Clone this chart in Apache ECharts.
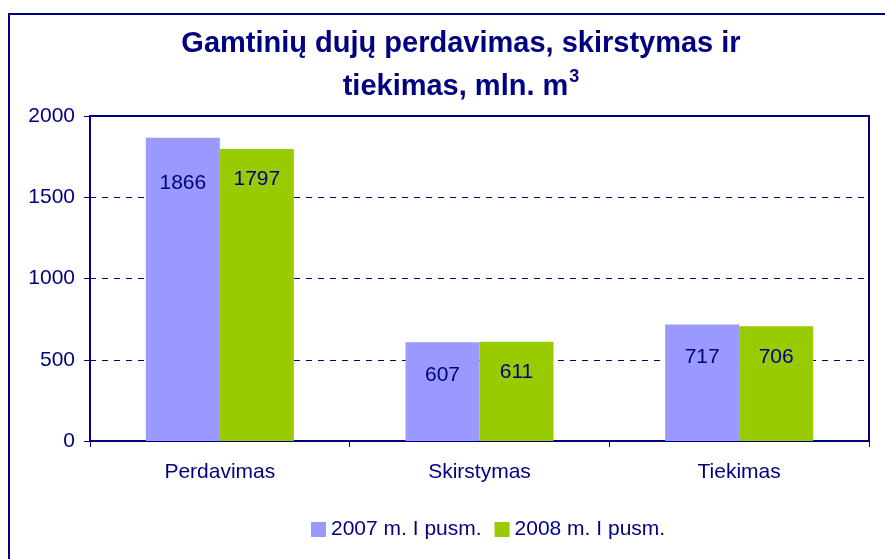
<!DOCTYPE html>
<html>
<head>
<meta charset="utf-8">
<script src="https://cdn.jsdelivr.net/npm/echarts@6/dist/echarts.min.js"></script>
<style>html,body{margin:0;padding:0;background:#fff;}#c{width:885px;height:559px;}</style>
</head>
<body>
<div id="c"></div>
<script>
const categories = ['Perdavimas', 'Skirstymas', 'Tiekimas'];
const seriesNames = ['2007 m. I pusm.', '2008 m. I pusm.'];
const values2007 = [1866, 607, 717];
const values2008 = [1797, 611, 706];
const yTicks = [0, 500, 1000, 1500, 2000];

const navy = '#000080';
const font = '"Liberation Sans", Arial, sans-serif';
const chart = echarts.init(document.getElementById('c'), null, {renderer: 'canvas'});
const d2007 = values2007.map((v, i) => i === 0 ? {value: v, label: {distance: 35}} : v);
chart.setOption({
  backgroundColor: '#ffffff',
  animation: false,
  graphic: [{
    type: 'rect', shape: {x: 9, y: 14, width: 900, height: 600},
    style: {fill: 'none', stroke: navy, lineWidth: 2}, z: -10
  }],
  title: {
    text: '{a|Gamtinių dujų perdavimas, skirstymas ir}\n{a|tiekimas, mln. m}{s|3}',
    left: 456, top: 17, textAlign: 'center',
    textStyle: {
      rich: {
        a: {fontFamily: font, fontSize: 29, fontWeight: 'bold', color: navy, lineHeight: 43},
        s: {fontFamily: font, fontSize: 18, fontWeight: 'bold', color: navy, lineHeight: 43, padding: [0, 0, 18, 1]}
      }
    }
  },
  legend: {
    data: seriesNames, top: 514, left: 306,
    itemWidth: 15, itemHeight: 15, itemGap: 13, icon: 'rect',
    textStyle: {fontFamily: font, fontSize: 21, color: navy}
  },
  grid: {left: 90, right: 16, top: 116, bottom: 118, show: true, borderColor: navy, borderWidth: 2, backgroundColor: 'transparent'},
  xAxis: {
    type: 'category', data: categories,
    axisLine: {lineStyle: {color: navy, width: 2}},
    axisTick: {show: true, alignWithLabel: false, length: 6, lineStyle: {color: navy, width: 1}},
    axisLabel: {fontFamily: font, fontSize: 21, color: navy, margin: 21}
  },
  yAxis: {
    type: 'value', min: yTicks[0], max: yTicks[yTicks.length - 1], interval: yTicks[1] - yTicks[0],
    axisLine: {show: true, lineStyle: {color: navy, width: 2}},
    axisTick: {show: true, length: 6, lineStyle: {color: navy, width: 1}},
    axisLabel: {fontFamily: font, fontSize: 21, color: navy, margin: 15, formatter: v => String(v)},
    splitLine: {show: true, showMinLine: false, showMaxLine: false, lineStyle: {color: navy, type: [6, 6], width: 1}}
  },
  series: [
    {name: seriesNames[0], type: 'bar', data: d2007, barGap: '0%', barCategoryGap: '43%',
     itemStyle: {color: '#9999FF'},
     label: {show: true, position: 'insideTop', distance: 22, fontFamily: font, fontSize: 21, color: navy}},
    {name: seriesNames[1], type: 'bar', data: values2008, barGap: '0%', barCategoryGap: '43%',
     itemStyle: {color: '#99CC00'},
     label: {show: true, position: 'insideTop', distance: 20, fontFamily: font, fontSize: 21, color: navy}}
  ]
});
</script>
</body>
</html>
